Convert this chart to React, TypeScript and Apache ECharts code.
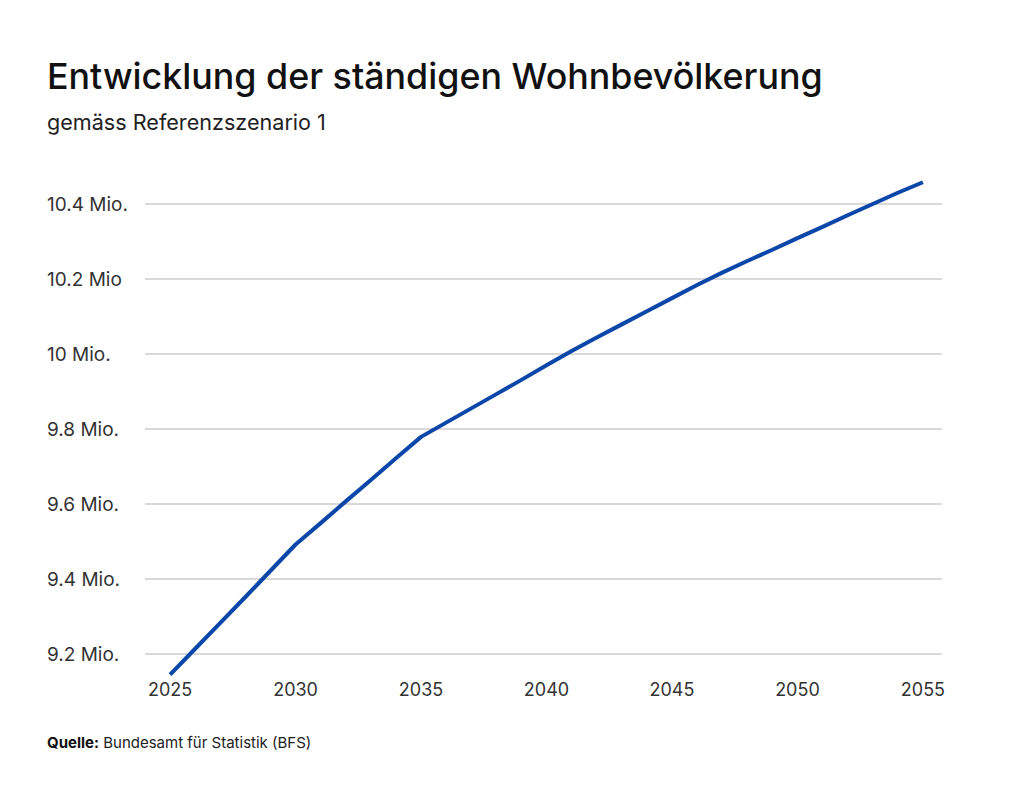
import React, { useEffect, useRef } from "react";
import * as echarts from "echarts";

const years = [
  2025, 2026, 2027, 2028, 2029, 2030, 2031, 2032, 2033, 2034, 2035, 2036, 2037, 2038, 2039, 2040,
  2041, 2042, 2043, 2044, 2045, 2046, 2047, 2048, 2049, 2050, 2051, 2052, 2053, 2054, 2055,
];
const population = [
  9.145, 9.214, 9.283, 9.352, 9.422, 9.492, 9.549, 9.607, 9.664, 9.722, 9.779, 9.817, 9.855, 9.893,
  9.931, 9.97, 10.008, 10.044, 10.079, 10.114, 10.149, 10.184, 10.217, 10.248, 10.278, 10.309,
  10.339, 10.37, 10.4, 10.43, 10.458,
];
const xTicks = [2025, 2030, 2035, 2040, 2045, 2050, 2055];
const yTicks = [9.2, 9.4, 9.6, 9.8, 10, 10.2, 10.4];
const yTickLabels: Record<string, string> = {
  "9.2": "9.2 Mio.",
  "9.4": "9.4 Mio.",
  "9.6": "9.6 Mio.",
  "9.8": "9.8 Mio.",
  "10": "10 Mio.",
  "10.2": "10.2 Mio",
  "10.4": "10.4 Mio.",
};
const titleText = "Entwicklung der ständigen Wohnbevölkerung";
const subtitleText = "gemäss Referenzszenario 1";
const sourceLabel = "Quelle:";
const sourceText = "Bundesamt für Statistik (BFS)";

const FONT = "Inter, 'Noto Sans', sans-serif";

export default function App() {
  const ref = useRef<HTMLDivElement>(null);
  useEffect(() => {
    document.body.style.margin = "0";
    const chart = echarts.init(ref.current!, null, { renderer: "svg" });
    chart.setOption({
      animation: false,
      backgroundColor: "#ffffff",
      title: [
        {
          text: titleText,
          left: 47,
          top: 58,
          padding: 0,
          textStyle: { fontFamily: FONT, fontSize: 35.8, fontWeight: 500, color: "#111111" },
        },
        {
          text: subtitleText,
          left: 47,
          top: 111,
          padding: 0,
          textStyle: { fontFamily: FONT, fontSize: 21.6, fontWeight: 400, color: "#222222" },
        },
      ],
      graphic: [
        {
          type: "text",
          left: 47,
          top: 735,
          style: {
            text: "{b|" + sourceLabel + "} " + sourceText,
            fontFamily: FONT,
            fontSize: 15,
            fill: "#222222",
            rich: {
              b: { fontFamily: FONT, fontSize: 15, fontWeight: 700, fill: "#111111" },
            },
          },
        },
      ],
      grid: { left: 145, right: 82, top: 181.5, bottom: 130.5 },
      xAxis: {
        type: "value",
        min: 2024,
        max: 2055.76,
        axisLine: { show: false },
        axisTick: { show: false, customValues: xTicks },
        splitLine: { show: false },
        axisLabel: {
          customValues: xTicks,
          margin: 4,
          fontFamily: FONT,
          fontSize: 18,
          color: "#333333",
          formatter: (v: number) => String(v),
        },
      },
      yAxis: {
        type: "value",
        min: 9.14,
        max: 10.46,
        axisLine: { show: false },
        axisTick: { show: false, customValues: yTicks },
        splitLine: { show: true, lineStyle: { color: "#cccccc", width: 1.5 } },
        axisLabel: {
          customValues: yTicks,
          align: "left",
          margin: 98,
          fontFamily: FONT,
          fontSize: 19,
          color: "#333333",
          formatter: (v: number) => yTickLabels[String(Math.round(v * 10) / 10)] ?? String(v),
        },
      },
      series: [
        {
          type: "line",
          data: years.map((y, i) => [y, population[i]]),
          showSymbol: false,
          clip: false,
          lineStyle: { color: "#0a47a9", width: 4 },
        },
      ],
    });
    return () => chart.dispose();
  }, []);
  return <div ref={ref} style={{ width: 1024, height: 807 }} />;
}
